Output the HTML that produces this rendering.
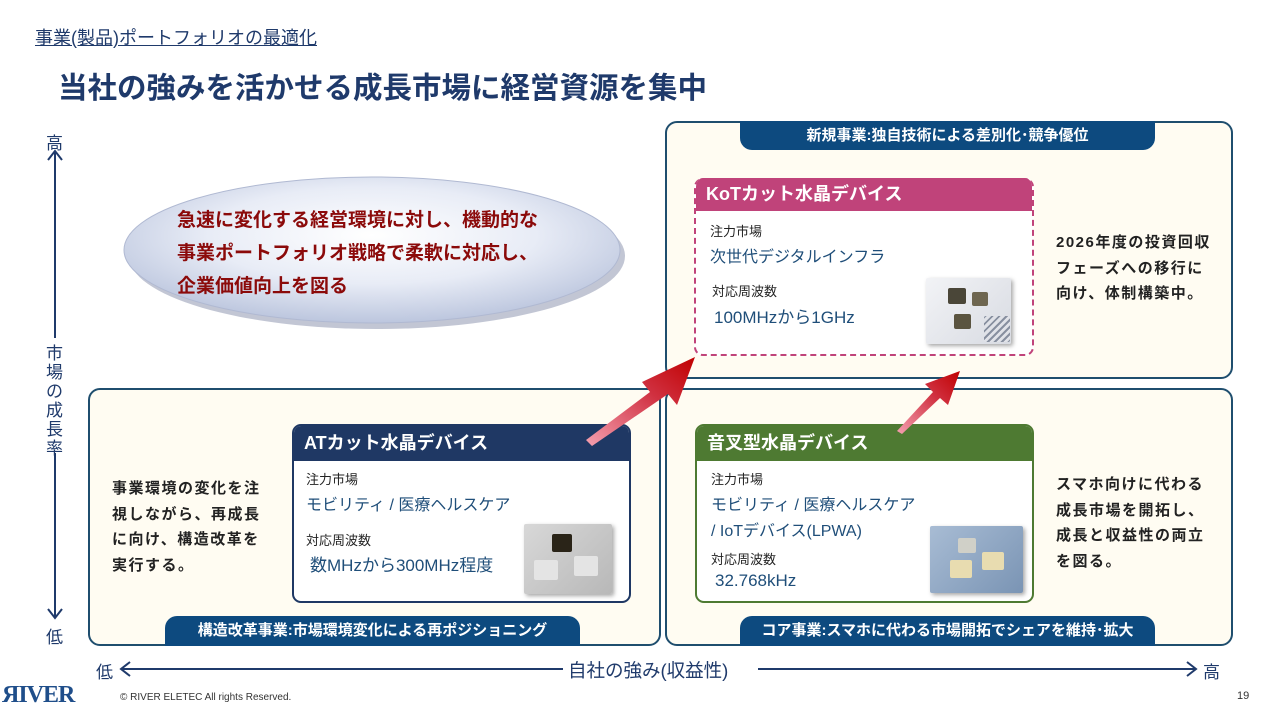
<!DOCTYPE html>
<html><head><meta charset="utf-8"><style>
*{margin:0;padding:0;box-sizing:border-box}
body{width:1280px;height:720px;background:#fff;position:relative;overflow:hidden;font-family:"Liberation Sans","Noto Sans CJK JP",sans-serif;color:#222}
.a{position:absolute;white-space:nowrap}
.panel{position:absolute;border:2px solid #1f4e6e;border-radius:12px;background:#fffcf2}
.tab{position:absolute;background:#0d4a7f;color:#fff;font-weight:bold;font-size:15px;text-align:center;line-height:29px}
.card{position:absolute;border-radius:9px;background:#fff;overflow:hidden}
.hd{position:absolute;left:0;top:0;right:0;color:#fff;font-weight:bold;font-size:18px;padding-left:10px}
.lb{font-size:13px;color:#222}
.bl{font-size:16px;color:#1f4e79}
.side{font-size:15px;font-weight:bold;line-height:25.5px;letter-spacing:1.5px;color:#222}
.img{position:absolute;border-radius:2px;box-shadow:2px 2px 4px rgba(0,0,0,.35)}
.chip{position:absolute;border-radius:2px}
</style></head><body>
<div class="a" style="left:35px;top:24px;font-size:18px;color:#1f3a6b;text-decoration:underline">事業(製品)ポートフォリオの最適化</div>
<div class="a" style="left:58px;top:65px;font-size:29.5px;font-weight:bold;color:#1f3a6b">当社の強みを活かせる成長市場に経営資源を集中</div>

<!-- vertical axis -->
<div class="a" style="left:46px;top:129px;font-size:17px;color:#1f3a6b">高</div>
<div class="a" style="left:46px;top:623px;font-size:17px;color:#1f3a6b">低</div>
<svg class="a" style="left:40px;top:148px" width="30" height="475">
<line x1="15" y1="3" x2="15" y2="190" stroke="#1f3a6b" stroke-width="2"/>
<line x1="15" y1="305" x2="15" y2="470" stroke="#1f3a6b" stroke-width="2"/>
<polyline points="8,12 15,3 22,12" fill="none" stroke="#1f3a6b" stroke-width="2"/>
<polyline points="8,461 15,470 22,461" fill="none" stroke="#1f3a6b" stroke-width="2"/>
</svg>
<div class="a" style="left:46px;top:344px;font-size:17px;color:#1f3a6b;line-height:19px;white-space:normal;width:20px">市場の成長率</div>

<!-- horizontal axis -->
<div class="a" style="left:96px;top:658px;font-size:17px;color:#1f3a6b">低</div>
<div class="a" style="left:1203px;top:658px;font-size:17px;color:#1f3a6b">高</div>
<div class="a" style="left:568px;top:657px;font-size:18.5px;color:#1f3a6b">自社の強み(収益性)</div>
<svg class="a" style="left:118px;top:660px" width="1082" height="20">
<line x1="3" y1="9" x2="445" y2="9" stroke="#1f3a6b" stroke-width="2"/>
<line x1="640" y1="9" x2="1078" y2="9" stroke="#1f3a6b" stroke-width="2"/>
<polyline points="12,2 3,9 12,16" fill="none" stroke="#1f3a6b" stroke-width="2"/>
<polyline points="1069,2 1078,9 1069,16" fill="none" stroke="#1f3a6b" stroke-width="2"/>
</svg>

<!-- panels -->
<div class="panel" style="left:665px;top:121px;width:568px;height:258px"></div>
<div class="panel" style="left:88px;top:388px;width:573px;height:258px"></div>
<div class="panel" style="left:665px;top:388px;width:568px;height:258px"></div>
<div class="tab" style="left:740px;top:121px;width:415px;height:29px;border-radius:0 0 12px 12px">新規事業:独自技術による差別化･競争優位</div>
<div class="tab" style="left:165px;top:616px;width:415px;height:30px;border-radius:12px 12px 0 0">構造改革事業:市場環境変化による再ポジショニング</div>
<div class="tab" style="left:740px;top:616px;width:415px;height:30px;border-radius:12px 12px 0 0">コア事業:スマホに代わる市場開拓でシェアを維持･拡大</div>

<!-- ellipse -->
<svg class="a" style="left:115px;top:170px" width="520" height="165">
<defs><radialGradient id="eg" cx="50%" cy="40%" r="60%"><stop offset="0" stop-color="#ffffff"/><stop offset="0.55" stop-color="#e8ecf6"/><stop offset="1" stop-color="#bcc6de"/></radialGradient></defs>
<ellipse cx="262" cy="86" rx="248" ry="73" fill="#8f98b0" opacity=".55"/>
<ellipse cx="257" cy="80" rx="248" ry="73" fill="url(#eg)" stroke="#b0b9d2" stroke-width="1"/>
</svg>
<div class="a" style="left:177px;top:204px;font-size:19px;font-weight:bold;color:#8b0a0a;line-height:33px">急速に変化する経営環境に対し、機動的な<br>事業ポートフォリオ戦略で柔軟に対応し、<br>企業価値向上を図る</div>

<!-- KoT card -->
<div class="card" style="left:694px;top:178px;width:340px;height:178px;border:2px dashed #c0437a;border-top:none">
<div class="hd" style="background:#c0437a;height:33px;line-height:33px">KoTカット水晶デバイス</div>
<div class="a lb" style="left:14px;top:43px">注力市場</div>
<div class="a bl" style="left:14px;top:65px">次世代デジタルインフラ</div>
<div class="a lb" style="left:16px;top:103px">対応周波数</div>
<div class="a bl" style="left:18px;top:125px;font-size:17px">100MHzから1GHz</div>
<div class="img" style="left:230px;top:100px;width:85px;height:66px;background:linear-gradient(135deg,#f2f3f6,#d8dbe2)">
<div class="chip" style="left:22px;top:10px;width:18px;height:16px;background:#4a4638"></div>
<div class="chip" style="left:46px;top:14px;width:16px;height:14px;background:#6e6650"></div>
<div class="chip" style="left:28px;top:36px;width:17px;height:15px;background:#5a5440"></div>
<div class="chip" style="left:58px;top:38px;width:26px;height:26px;background:repeating-linear-gradient(135deg,#8890a0 0 2px,#e0e2e8 2px 5px)"></div>
</div>
</div>
<div class="a side" style="left:1056px;top:230px">2026年度の投資回収<br>フェーズへの移行に<br>向け、体制構築中。</div>

<!-- AT card -->
<div class="card" style="left:292px;top:424px;width:339px;height:179px;border:2px solid #1f3864">
<div class="hd" style="background:#1f3864;height:35px;line-height:35px">ATカット水晶デバイス</div>
<div class="a lb" style="left:12px;top:43px">注力市場</div>
<div class="a bl" style="left:12px;top:65px">モビリティ / 医療ヘルスケア</div>
<div class="a lb" style="left:12px;top:104px">対応周波数</div>
<div class="a bl" style="left:16px;top:125px;font-size:17px">数MHzから300MHz程度</div>
<div class="img" style="left:230px;top:98px;width:88px;height:70px;background:linear-gradient(135deg,#d8d8d8,#b8b8b8)">
<div class="chip" style="left:28px;top:10px;width:20px;height:18px;background:#2a2418"></div>
<div class="chip" style="left:10px;top:36px;width:24px;height:20px;background:#e4e4e4"></div>
<div class="chip" style="left:50px;top:32px;width:24px;height:20px;background:#e4e4e4"></div>
</div>
</div>
<div class="a side" style="left:112px;top:476px">事業環境の変化を注<br>視しながら、再成長<br>に向け、構造改革を<br>実行する。</div>

<!-- tuning fork card -->
<div class="card" style="left:695px;top:424px;width:339px;height:179px;border:2px solid #4e7a32">
<div class="hd" style="background:#4e7a32;height:35px;line-height:35px">音叉型水晶デバイス</div>
<div class="a lb" style="left:14px;top:43px">注力市場</div>
<div class="a bl" style="left:14px;top:65px">モビリティ / 医療ヘルスケア</div>
<div class="a bl" style="left:14px;top:91px">/ IoTデバイス(LPWA)</div>
<div class="a lb" style="left:14px;top:123px">対応周波数</div>
<div class="a bl" style="left:18px;top:145px;font-size:17px">32.768kHz</div>
<div class="img" style="left:233px;top:100px;width:93px;height:67px;background:linear-gradient(135deg,#a8bcd4,#7a94b4)">
<div class="chip" style="left:28px;top:12px;width:18px;height:15px;background:#d0d0c8"></div>
<div class="chip" style="left:20px;top:34px;width:22px;height:18px;background:#e8dcb0"></div>
<div class="chip" style="left:52px;top:26px;width:22px;height:18px;background:#e8dcb0"></div>
</div>
</div>
<div class="a side" style="left:1056px;top:472px">スマホ向けに代わる<br>成長市場を開拓し、<br>成長と収益性の両立<br>を図る。</div>

<!-- red arrows -->
<svg class="a" style="left:0;top:0" width="1280" height="720">
<defs>
<linearGradient id="r1" x1="0" y1="1" x2="1" y2="0"><stop offset="0" stop-color="#f4a0b0"/><stop offset="0.6" stop-color="#d03040"/><stop offset="1" stop-color="#c00000"/></linearGradient>
</defs>
<polygon points="586,440 650,392 642,382 695,357 677,405 668,394 592,446" fill="url(#r1)"/>
<polygon points="897,431 933,392 925,384 960,371 948,405 940,398 902,434" fill="url(#r1)"/>
</svg>

<!-- footer -->
<div class="a" style="left:2px;top:682px;font-size:24px;font-family:'Liberation Serif',serif;font-weight:bold;color:#1f4e8a;letter-spacing:-1px">ЯIVER</div>
<div class="a" style="left:120px;top:692px;font-size:10px;color:#333">© RIVER ELETEC All rights Reserved.</div>
<div class="a" style="left:1237px;top:690px;font-size:11px;color:#333">19</div>
</body></html>
